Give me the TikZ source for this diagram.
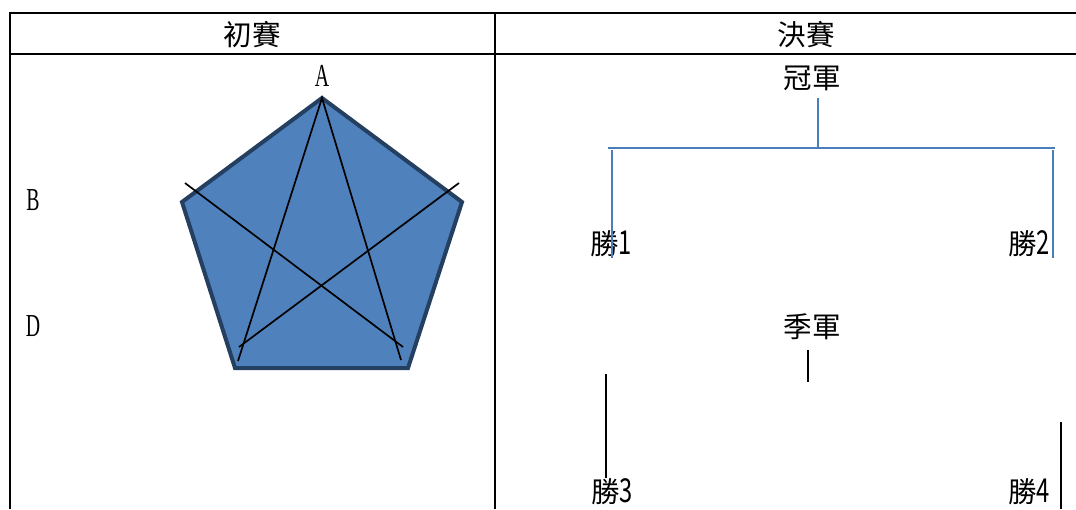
\documentclass[tikz,border=0pt]{standalone}
\usepackage{fontspec}
\setmainfont{Liberation Serif}
\newfontfamily\cjk{Noto Sans CJK TC}
\newcommand\lat[1]{\scalebox{0.62}[1]{\fontsize{32}{32}\selectfont #1}}
\newcommand\dig[1]{\scalebox{0.72}[1]{\fontsize{33}{33}\selectfont #1}}
\definecolor{pentfill}{HTML}{4F81BD}
\definecolor{pentedge}{HTML}{243F60}
\definecolor{bracket}{HTML}{4A7EBB}
\tikzset{
  tbl/.style={line width=2.6pt, black},
  lbl/.style={inner sep=0pt, font=\cjk\fontsize{28.5}{28.5}\selectfont},
  pent/.style={line width=4pt, draw=pentedge, fill=pentfill, line join=miter},
  starline/.style={line width=1.7pt, black},
  blueline/.style={line width=2pt, bracket},
  blackline/.style={line width=1.8pt, black},
}
\begin{document}
\begin{tikzpicture}[x=1pt,y=-1pt]
\useasboundingbox (0,0) rectangle (1076,509);
% table
\draw[tbl] (10,509) -- (10,13) -- (1076,13);
\draw[tbl] (10,54) -- (1076,54);
\draw[tbl] (495,13) -- (495,509);
\node[lbl] (h1) at (252,35) {初賽};
\node[lbl] (h2) at (806,35) {決賽};
% pentagon
\coordinate (pA) at (322,98);
\coordinate (pR) at (462,202);
\coordinate (pBR) at (408,368);
\coordinate (pBL) at (235,368);
\coordinate (pL) at (182,202);
\draw[pent] (pA) -- (pR) -- (pBR) -- (pBL) -- (pL) -- cycle;
\coordinate (s1) at (238,361);
\coordinate (s2) at (401,360);
\coordinate (s3a) at (185,183);
\coordinate (s3b) at (403,347);
\coordinate (s4a) at (459,183);
\coordinate (s4b) at (239,347);
\draw[starline] (s1) -- (pA) -- (s2);
\draw[starline] (s3a) -- (s3b);
\draw[starline] (s4a) -- (s4b);
\node[inner sep=0pt] (A) at (322,76) {\lat{A}};
\node[inner sep=0pt] (B) at (33,200) {\lat{B}};
\node[inner sep=0pt] (D) at (33,326) {\lat{D}};
% final bracket
\node[lbl] (champ) at (812,78) {冠軍};
\node[lbl] (w1) at (611,244) {勝\dig{1}};
\node[lbl] (w2) at (1029,244) {勝\dig{2}};
\coordinate (c1) at (818,98);
\coordinate (c2) at (818,148);
\coordinate (bl) at (608,148);
\coordinate (br) at (1055,148);
\coordinate (bl1) at (612,150);
\coordinate (bl2) at (612,258);
\coordinate (br1) at (1053,150);
\coordinate (br2) at (1053,258);
\draw[blueline] (c1) -- (c2);
\draw[blueline] (bl) -- (br);
\draw[blueline] (bl1) -- (bl2);
\draw[blueline] (br1) -- (br2);
% third place
\node[lbl] (third) at (812,327) {季軍};
\node[lbl] (w3) at (612,492) {勝\dig{3}};
\node[lbl] (w4) at (1029,492) {勝\dig{4}};
\coordinate (t1) at (808,350);
\coordinate (t2) at (808,382);
\coordinate (l1) at (606,374);
\coordinate (l2) at (606,478);
\coordinate (r1) at (1061,422);
\coordinate (r2) at (1061,509);
\draw[blackline] (t1) -- (t2);
\draw[line width=1.4pt] (l1) -- (l2);
\draw[blackline] (r1) -- (r2);
\end{tikzpicture}
\end{document}
